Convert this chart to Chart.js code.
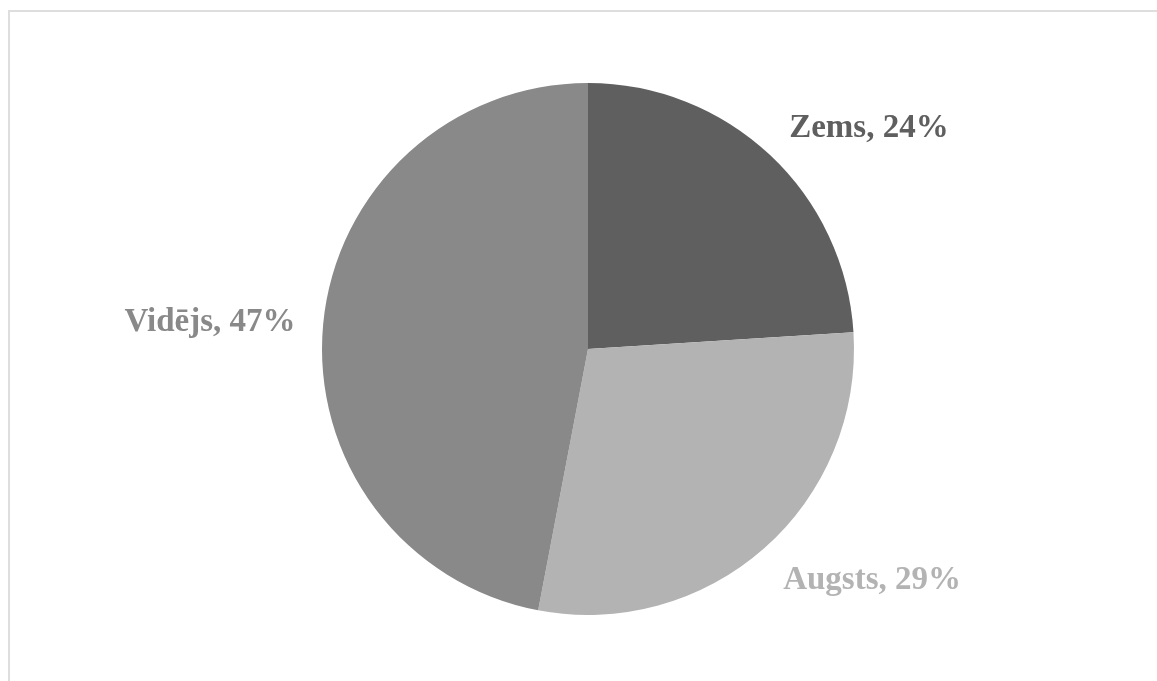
<!DOCTYPE html>
<html>
<head>
<meta charset="utf-8">
<script src="https://cdn.jsdelivr.net/npm/chart.js@4.4.0/dist/chart.umd.min.js"></script>
<style>
  html, body { margin: 0; padding: 0; background: #fff; overflow: hidden; }
  #wrap { position: relative; width: 1157px; height: 681px; }
  #frame { position: absolute; left: 8px; top: 10px; width: 1200px; height: 700px;
           border-top: 2px solid #dedede; border-left: 2px solid #dedede; }
  canvas { position: absolute; left: 0; top: 0; }
</style>
</head>
<body>
<div id="wrap">
  <div id="frame"></div>
  <canvas id="mycanvas" width="1157" height="681"></canvas>
</div>
<script>
var labels = ['Zems', 'Augsts', 'Vidējs'];
var values = [24, 29, 47];
var colors = ['#5f5f5f', '#b3b3b3', '#898989'];
// label offsets from pie centre, in units of the radius
var labelOffsets = [[1.056, -0.83], [1.068, 0.87], [-1.421, -0.10]];

var outsideLabels = {
	id: 'outsideLabels',
	afterDatasetsDraw: function(chart) {
		var ctx = chart.ctx;
		var meta = chart.getDatasetMeta(0);
		ctx.save();
		ctx.font = 'bold 33px "Liberation Serif", serif';
		ctx.textAlign = 'center';
		ctx.textBaseline = 'middle';
		meta.data.forEach(function(arc, i) {
			var r = arc.outerRadius;
			var x = arc.x + labelOffsets[i][0] * r;
			var y = arc.y + labelOffsets[i][1] * r;
			ctx.fillStyle = colors[i];
			ctx.fillText(labels[i] + ', ' + values[i] + '%', x, y);
		});
		ctx.restore();
	}
};

var ctx = document.getElementById('mycanvas');
var pie = new Chart(ctx, {
	type: 'pie',
	data: {
		labels: labels,
		datasets: [{
			data: values,
			backgroundColor: colors,
			borderWidth: 0
		}]
	},
	options: {
		responsive: false,
		animation: false,
		layout: { padding: { left: 19, right: 0, top: 83, bottom: 66 } },
		plugins: {
			legend: { display: false },
			tooltip: { enabled: false }
		}
	},
	plugins: [outsideLabels]
});
</script>
</body>
</html>
